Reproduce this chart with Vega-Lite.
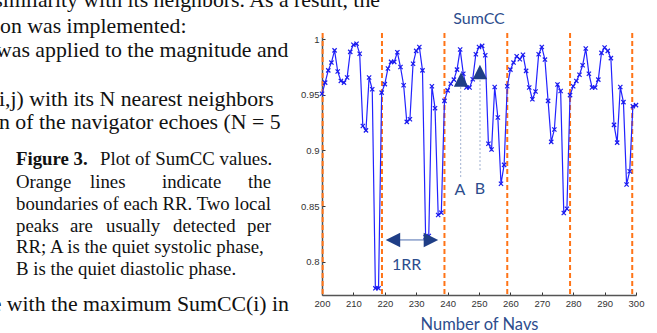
{
  "$schema": "https://vega.github.io/schema/vega-lite/v6.json",
  "width": 314,
  "height": 258,
  "autosize": {"type": "none"},
  "padding": {"left": 322, "top": 37, "right": 21, "bottom": 38},
  "background": "white",
  "config": {"view": {"stroke": null}},
  "datasets": {
    "sumcc": [
      {"n":200,"v":0.951},{"n":201,"v":0.961},{"n":202,"v":0.972},{"n":203,"v":0.979},{"n":204,"v":0.990},
      {"n":205,"v":0.971},{"n":206,"v":0.9625},{"n":207,"v":0.961},{"n":208,"v":0.9656},{"n":209,"v":0.9886},
      {"n":210,"v":0.995},{"n":211,"v":0.996},{"n":212,"v":0.987},{"n":213,"v":0.922},{"n":214,"v":0.918},
      {"n":215,"v":0.9656},{"n":216,"v":0.955},{"n":217,"v":0.776},{"n":218,"v":0.776},{"n":219,"v":0.952},
      {"n":220,"v":0.9596},{"n":221,"v":0.9737},{"n":222,"v":0.9796},{"n":223,"v":0.9796},{"n":224,"v":0.9883},
      {"n":225,"v":0.975},{"n":226,"v":0.9586},{"n":227,"v":0.9257},{"n":228,"v":0.928},{"n":229,"v":0.978},
      {"n":230,"v":0.9895},{"n":231,"v":0.993},{"n":232,"v":0.972},{"n":233,"v":0.822},{"n":234,"v":0.823},
      {"n":235,"v":0.9577},{"n":236,"v":0.938},{"n":237,"v":0.842},{"n":238,"v":0.844},{"n":239,"v":0.9446},
      {"n":240,"v":0.954},{"n":241,"v":0.960},{"n":242,"v":0.9637},{"n":243,"v":0.9727},{"n":244,"v":0.9907},
      {"n":245,"v":0.969},{"n":246,"v":0.9566},{"n":247,"v":0.9566},{"n":248,"v":0.964},{"n":249,"v":0.9865},
      {"n":250,"v":0.993},{"n":251,"v":0.994},{"n":252,"v":0.9856},{"n":253,"v":0.906},{"n":254,"v":0.9008},
      {"n":255,"v":0.957},{"n":256,"v":0.9296},{"n":257,"v":0.870},{"n":258,"v":0.887},{"n":259,"v":0.9577},
      {"n":260,"v":0.9727},{"n":261,"v":0.979},{"n":262,"v":0.9847},{"n":263,"v":0.982},{"n":264,"v":0.986},
      {"n":265,"v":0.9715},{"n":266,"v":0.9566},{"n":267,"v":0.946},{"n":268,"v":0.953},{"n":269,"v":0.9865},
      {"n":270,"v":0.993},{"n":271,"v":0.9817},{"n":272,"v":0.9446},{"n":273,"v":0.9077},{"n":274,"v":0.9188},
      {"n":275,"v":0.9593},{"n":276,"v":0.9535},{"n":277,"v":0.8438},{"n":278,"v":0.8475},{"n":279,"v":0.9497},
      {"n":280,"v":0.9577},{"n":281,"v":0.9625},{"n":282,"v":0.968},{"n":283,"v":0.9766},{"n":284,"v":0.9916},
      {"n":285,"v":0.969},{"n":286,"v":0.9566},{"n":287,"v":0.9566},{"n":288,"v":0.9637},{"n":289,"v":0.9877},
      {"n":290,"v":0.9925},{"n":291,"v":0.9895},{"n":292,"v":0.983},{"n":293,"v":0.923},{"n":294,"v":0.907},
      {"n":295,"v":0.957},{"n":296,"v":0.9434},{"n":297,"v":0.8694},{"n":298,"v":0.8813},{"n":299,"v":0.9398},
      {"n":300,"v":0.9407}
    ],
    "rr": [
      {"n":200.2,"v":1.0056,"v2":0.7682},{"n":219.1,"v":1.0056,"v2":0.7682},{"n":239.0,"v":1.0056,"v2":0.7682},
      {"n":259.0,"v":1.0056,"v2":0.7682},{"n":279.0,"v":1.0056,"v2":0.7682},{"n":298.8,"v":1.0056,"v2":0.7682}
    ],
    "phase": [
      {"n":244.17,"v":0.957,"v2":0.8752},
      {"n":250.32,"v":0.9633,"v2":0.8815}
    ],
    "tri": [
      {"n":244.3,"v":0.9638,"s":"up"},
      {"n":250.3,"v":0.9705,"s":"up"},
      {"n":222.6,"v":0.8195,"s":"left"},
      {"n":234.7,"v":0.8195,"s":"right"}
    ],
    "arrow": [{"n":223,"n2":234,"v":0.8195}],
    "labels": [
      {"t":"A","n":243.95,"v":0.8644},
      {"t":"B","n":250.32,"v":0.865},
      {"t":"1RR","n":226.97,"v":0.7974},
      {"t":"SumCC","n":250.0,"v":1.0185}
    ],
    "body": [
      {"t":"on was implemented:","n":97.45,"v":1.0056},
      {"t":"was applied to the magnitude and","n":96.18,"v":0.9837},
      {"t":"i,j) with its N nearest neighbors","n":97.13,"v":0.94},
      {"t":"n of the navigator echoes (N = 5","n":97.13,"v":0.9193},
      {"t":"e with the maximum SumCC(i) in","n":94.8,"v":0.7559}
    ],
    "bodyRight": [
      {"t":"similarity with its neighbors. As a result, the","n":218.47,"v":1.029}
    ],
    "cap": [
      {"t":"Plot of SumCC values.","n":129.3,"v":0.8869},
      {"t":"Orange","n":102.55,"v":0.8662},
      {"t":"lines","n":126.11,"v":0.8662},
      {"t":"indicate","n":149.04,"v":0.8662},
      {"t":"boundaries of each RR. Two local","n":102.55,"v":0.8464},
      {"t":"peaks","n":102.55,"v":0.8271},
      {"t":"are","n":119.75,"v":0.8271},
      {"t":"usually","n":131.21,"v":0.8271},
      {"t":"detected","n":152.55,"v":0.8271},
      {"t":"RR; A is the quiet systolic phase,","n":102.55,"v":0.8078},
      {"t":"B is the quiet diastolic phase.","n":102.55,"v":0.7884}
    ],
    "capRight": [
      {"t":"the","n":183.76,"v":0.8662},
      {"t":"per","n":183.76,"v":0.8271}
    ],
    "capBold": [
      {"t":"Figure 3.","n":102.55,"v":0.8869}
    ]
  },
  "encoding": {
    "x": {
      "field": "n", "type": "quantitative",
      "scale": {"domain": [200, 300], "nice": false, "zero": false},
      "axis": {
        "values": [200,210,220,230,240,250,260,270,280,290,300],
        "title": "Number of Navs", "titleFont": "Lato", "titleFontSize": 16.5, "titleFontWeight": "normal",
        "titleColor": "#2d4d8d", "titlePadding": 9,
        "labelFont": "Liberation Sans", "labelFontSize": 9.5, "labelColor": "#333", "labelPadding": 6,
        "labelFlush": false, "labelOverlap": false, "labelBound": false,
        "tickSize": -3, "tickColor": "#333", "tickWidth": 1,
        "domainColor": "#555", "domainWidth": 1.5, "grid": false
      }
    },
    "y": {
      "field": "v", "type": "quantitative",
      "scale": {"domain": [0.77, 1.002], "nice": false, "zero": false},
      "axis": {
        "values": [0.8, 0.85, 0.9, 0.95, 1], "format": ".2~f", "title": null,
        "labelFont": "Liberation Sans", "labelFontSize": 9.5, "labelColor": "#333", "labelPadding": 6,
        "labelFlush": false, "labelOverlap": false, "labelBound": false,
        "tickSize": -3, "tickColor": "#333", "tickWidth": 1,
        "domainColor": "#555", "domainWidth": 1.5, "grid": false
      }
    }
  },
  "layer": [
    {
      "data": {"name": "rr"},
      "mark": {"type": "rule", "color": "#ff7417", "strokeWidth": 2, "strokeDash": [5, 3]},
      "encoding": {"y2": {"field": "v2"}}
    },
    {
      "data": {"name": "phase"},
      "mark": {"type": "rule", "color": "#9fb0d0", "strokeWidth": 1, "strokeDash": [2, 2]},
      "encoding": {"y2": {"field": "v2"}}
    },
    {
      "data": {"name": "sumcc"},
      "mark": {"type": "line", "color": "#2222ff", "strokeWidth": 1.2},
      "encoding": {}
    },
    {
      "data": {"name": "sumcc"},
      "mark": {"type": "point", "shape": "M-1,-1L1,1M-1,1L1,-1", "size": 18, "filled": false, "color": "#1a1aee", "strokeWidth": 1.2, "opacity": 1},
      "encoding": {}
    },
    {
      "data": {"name": "arrow"},
      "mark": {"type": "rule", "color": "#4f6fb0", "strokeWidth": 1},
      "encoding": {"x2": {"field": "n2"}}
    },
    {
      "data": {"name": "tri"},
      "mark": {"type": "point", "filled": true, "color": "#1f3e86", "opacity": 1, "size": 210},
      "encoding": {
        "shape": {
          "field": "s", "type": "nominal", "legend": null,
          "scale": {"domain": ["up", "left", "right"], "range": ["M0,-1L1,1L-1,1Z", "M-1,0L1,-1L1,1Z", "M1,0L-1,-1L-1,1Z"]}
        }
      }
    },
    {
      "data": {"name": "labels"},
      "mark": {"type": "text", "font": "Lato", "fontSize": 16, "color": "#2d4d8d", "align": "center", "baseline": "middle"},
      "encoding": {"text": {"field": "t"}}
    },
    {
      "data": {"name": "body"},
      "mark": {"type": "text", "font": "Liberation Serif", "fontSize": 21.8, "color": "#111", "align": "left", "baseline": "alphabetic"},
      "encoding": {"text": {"field": "t"}}
    },
    {
      "data": {"name": "bodyRight"},
      "mark": {"type": "text", "font": "Liberation Serif", "fontSize": 21.8, "color": "#111", "align": "right", "baseline": "alphabetic"},
      "encoding": {"text": {"field": "t"}}
    },
    {
      "data": {"name": "cap"},
      "mark": {"type": "text", "font": "Liberation Serif", "fontSize": 18.8, "color": "#111", "align": "left", "baseline": "alphabetic"},
      "encoding": {"text": {"field": "t"}}
    },
    {
      "data": {"name": "capRight"},
      "mark": {"type": "text", "font": "Liberation Serif", "fontSize": 18.8, "color": "#111", "align": "right", "baseline": "alphabetic"},
      "encoding": {"text": {"field": "t"}}
    },
    {
      "data": {"name": "capBold"},
      "mark": {"type": "text", "font": "Liberation Serif", "fontSize": 18.8, "fontWeight": "bold", "color": "#111", "align": "left", "baseline": "alphabetic"},
      "encoding": {"text": {"field": "t"}}
    }
  ]
}
